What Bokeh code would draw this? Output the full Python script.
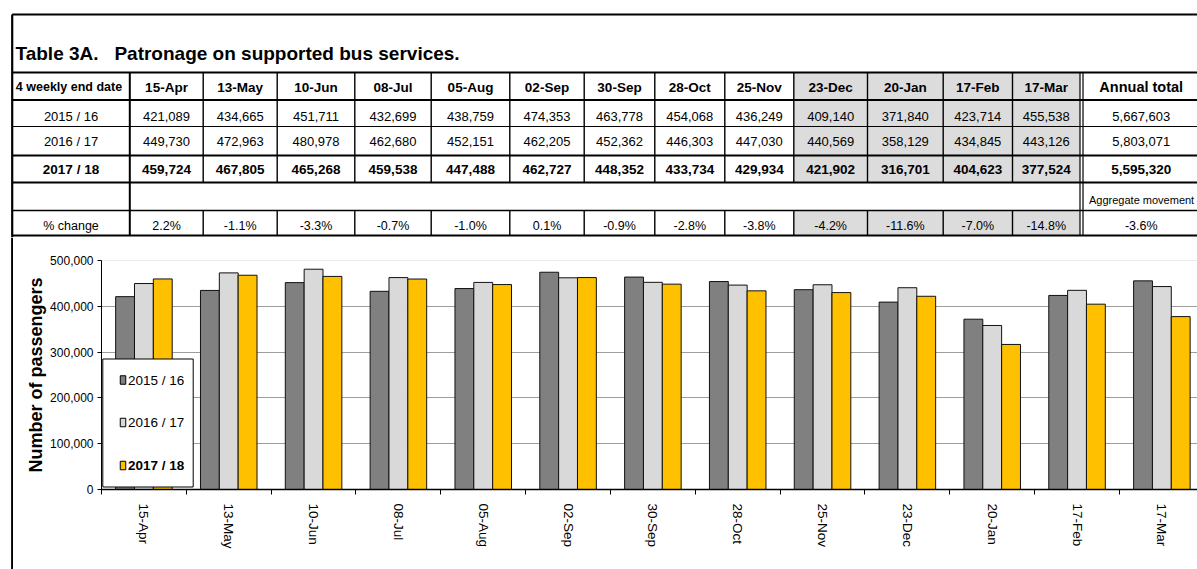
import numpy as np
from bokeh.plotting import figure
from bokeh.models import Range1d, FixedTicker, NumeralTickFormatter, ColumnDataSource, Span
from bokeh.layouts import column, row
from bokeh.transform import dodge
from bokeh.embed import file_html
from bokeh.resources import INLINE
from bokeh.core.properties import value

# ---------------- data ----------------
months = ["15-Apr", "13-May", "10-Jun", "08-Jul", "05-Aug", "02-Sep", "30-Sep",
          "28-Oct", "25-Nov", "23-Dec", "20-Jan", "17-Feb", "17-Mar"]
s1516 = [421089, 434665, 451711, 432699, 438759, 474353, 463778, 454068, 436249,
         409140, 371840, 423714, 455538]
s1617 = [449730, 472963, 480978, 462680, 452151, 462205, 452362, 446303, 447030,
         440569, 358129, 434845, 443126]
s1718 = [459724, 467805, 465268, 459538, 447488, 462727, 448352, 433734, 429934,
         421902, 316701, 404623, 377524]
pct_change = ["2.2%", "-1.1%", "-3.3%", "-0.7%", "-1.0%", "0.1%", "-0.9%", "-2.8%",
              "-3.8%", "-4.2%", "-11.6%", "-7.0%", "-14.8%"]
annual_total = [5667603, 5803071, 5595320]
aggregate_change = "-3.6%"
series_labels = ["2015 / 16", "2016 / 17", "2017 / 18"]
series_colors = ["#808080", "#D9D9D9", "#FFC000"]
title_text = "Table 3A.\u00a0\u00a0 Patronage on supported bus services."

FONT = "Liberation Sans, Arial, sans-serif"

# ---------------- table figure (pixel coordinates of the page) ----------------
tab = figure(width=1197, height=237, x_range=Range1d(0, 1197), y_range=Range1d(237, 0),
             output_backend="svg", toolbar_location=None, min_border=0,
             x_axis_location=None, y_axis_location=None)
tab.grid.visible = False
tab.outline_line_color = None

col_edges = [11.7, 129.3, 202.7, 276.7, 354.3, 430.7, 509.3, 583.7, 654.3, 724.3,
             793.3, 867.0, 942.7, 1012.0, 1079.5]
annual_left, annual_right = 1082.5, 1201.0
row_edges = [72, 99.5, 126, 155, 182, 210, 235]
row_text_y = [86.5, 115.5, 141, 168.5, 199, 225.5]

# shaded winter columns
tab.quad(left=[col_edges[10], col_edges[10]], right=[col_edges[14], col_edges[14]],
         top=[row_edges[0], row_edges[5]], bottom=[row_edges[4], row_edges[6]],
         fill_color="#DCDCDC", line_color=None)

# horizontal lines
hl_y = [14] + row_edges
hl_w = [2.2, 2.2, 1.8, 1.0, 2.2, 2.2, 1.4, 2.2]
tab.segment(x0=[col_edges[0]] * len(hl_y), x1=[1200] * len(hl_y), y0=hl_y, y1=hl_y,
            line_color="black", line_width=hl_w)

# vertical lines
vx0, vy0, vy1, vw = [], [], [], []
for e in col_edges[2:14]:
    vx0 += [e, e]; vy0 += [row_edges[0], row_edges[5]]; vy1 += [row_edges[4], row_edges[6]]
    vw += [1.4, 1.4]
for e, w in [(col_edges[1], 2.0), (col_edges[14], 1.2), (annual_left, 1.2)]:
    vx0.append(e); vy0.append(row_edges[0]); vy1.append(row_edges[6]); vw.append(w)
vx0.append(col_edges[0]); vy0.append(14); vy1.append(237); vw.append(2.2)
tab.segment(x0=vx0, x1=vx0, y0=vy0, y1=vy1, line_color="black", line_width=vw)

# title
tab.text(x=[15], y=[52.5], text=[title_text], text_font=value(FONT),
         text_font_size="19px", text_font_style="bold", text_align="left",
         text_baseline="alphabetic", text_color="black")

centers = [(col_edges[i] + col_edges[i + 1]) / 2 for i in range(len(col_edges) - 1)]
annual_c = (annual_left + annual_right) / 2 - 1


def cells(texts, xs, y, size, style, align="center"):
    tab.text(x=xs, y=[y] * len(xs), text=texts, text_font=value(FONT),
             text_font_size=size, text_font_style=style, text_align=align,
             text_baseline="middle", text_color="black")


cells(["4 weekly end date"], [centers[0] - 2], row_text_y[0], "12.5px", "bold")
cells(months, centers[1:], row_text_y[0], "13.5px", "bold")
cells(["Annual total"], [annual_c], row_text_y[0], "14.5px", "bold")
for k, (lab, ser) in enumerate(zip(series_labels, [s1516, s1617, s1718])):
    style = "bold" if k == 2 else "normal"
    size = "13.5px" if k == 2 else "13px"
    cells([lab] + [f"{v:,}" for v in ser] + [f"{annual_total[k]:,}"],
          centers + [annual_c], row_text_y[k + 1], size, style)
cells(["Aggregate movement"], [1088.5], row_text_y[4], "11px", "normal", align="left")
cells(["% change"] + pct_change + [aggregate_change], centers + [annual_c],
      row_text_y[5], "12.5px", "normal")

# ---------------- left border strip ----------------
strip = figure(width=13, height=332, x_range=Range1d(0, 13), y_range=Range1d(569, 237),
               output_backend="svg", toolbar_location=None, min_border=0,
               x_axis_location=None, y_axis_location=None)
try:
    strip.frame_align = False
except Exception:
    pass
strip.grid.visible = False
strip.outline_line_color = None
strip.segment(x0=[11.7], x1=[11.7], y0=[237], y1=[569], line_color="black", line_width=2.2)

# ---------------- bar chart ----------------
n = len(months)
xs = [i + 0.5 for i in range(n)]
src = ColumnDataSource(dict(x=xs, s1516=s1516, s1617=s1617, s1718=s1718))

chart = figure(width=1184, height=332, x_range=Range1d(0, 12.92), y_range=Range1d(0, 500000),
               output_backend="svg", toolbar_location=None,
               min_border_left=88, min_border_right=0, min_border_top=23, min_border_bottom=80)
chart.outline_line_color = None
chart.xgrid.visible = False
chart.ygrid.ticker = FixedTicker(ticks=[100000, 200000, 300000, 400000])
chart.ygrid.grid_line_color = "#9E9E9E"
chart.add_layout(Span(location=500000, dimension="width", line_color="#D5D5D5", line_width=1,
                      level="underlay"))

bw = 0.2222
for off, col, c in zip([-bw, 0.0, bw], ["s1516", "s1617", "s1718"], series_colors):
    chart.vbar(x=dodge("x", off, range=chart.x_range), top=col, width=bw, source=src,
               fill_color=c, line_color="#111111", line_width=1)

ya = chart.yaxis[0]
ya.ticker = FixedTicker(ticks=[0, 100000, 200000, 300000, 400000, 500000])
ya.formatter = NumeralTickFormatter(format="0,0")
ya.major_label_text_font = FONT
ya.major_label_text_font_size = "12px"
ya.major_label_text_color = "black"
ya.major_tick_out = 4
ya.major_tick_in = 0
ya.minor_tick_out = 0
ya.minor_tick_in = 0
ya.major_label_standoff = 4
ya.axis_line_color = "black"
ya.major_tick_line_color = "black"
ya.axis_label = "Number of passengers"
ya.axis_label_text_font = FONT
ya.axis_label_text_font_size = "18px"
ya.axis_label_text_font_style = "bold"
ya.axis_label_text_color = "black"
ya.axis_label_standoff = 1

xa = chart.xaxis[0]
xa.ticker = FixedTicker(ticks=xs, minor_ticks=list(range(n + 1)))
xa.major_label_overrides = {x: m for x, m in zip(xs, months)}
xa.major_label_orientation = "vertical"
xa.major_label_text_font = FONT
xa.major_label_text_font_size = "13.5px"
xa.major_label_text_color = "black"
xa.major_tick_out = 0
xa.major_tick_in = 0
xa.minor_tick_out = 5
xa.minor_tick_in = 0
xa.minor_tick_line_color = "black"
xa.major_label_standoff = 9
xa.axis_line_color = "black"
xa.axis_line_width = 1.5

# legend drawn in frame pixel coordinates
chart.extra_x_ranges = {"px": Range1d(101, 1197)}
chart.extra_y_ranges = {"py": Range1d(489, 260)}
chart.quad(left=[102.3], right=[192.7], top=[358.5], bottom=[486.5], fill_color="white",
           line_color="black", line_width=1, x_range_name="px", y_range_name="py")
leg_y = [379.5, 422, 465]
chart.rect(x=[122.5] * 3, y=leg_y, width=5.5, height=8.5, fill_color=series_colors,
           line_color="black", line_width=1, x_range_name="px", y_range_name="py")
for k in range(3):
    chart.text(x=[127.5], y=[leg_y[k]], text=[series_labels[k]], text_font=value(FONT),
               text_font_size="13.5px", text_font_style="bold" if k == 2 else "normal",
               text_align="left", text_baseline="middle", text_color="black",
               x_range_name="px", y_range_name="py")

layout = column(tab, row(strip, chart))
open("out.html", "w").write(file_html(layout, INLINE))
